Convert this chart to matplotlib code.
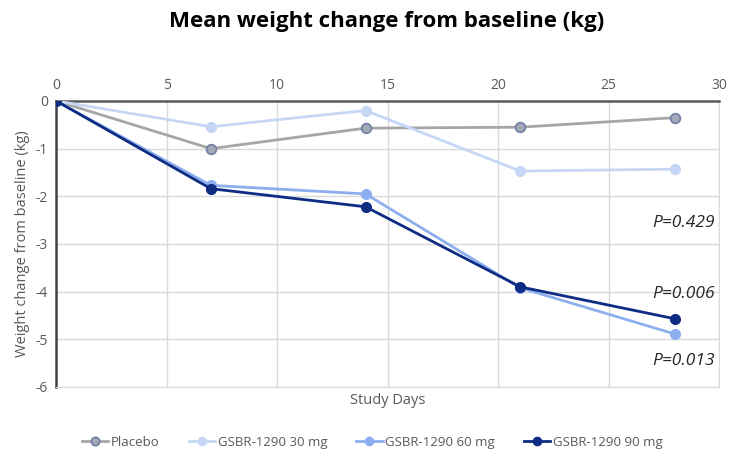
import matplotlib
matplotlib.use("Agg")
import matplotlib.pyplot as plt

days = [0, 7, 14, 21, 28]
placebo = [0, -1.00, -0.57, -0.55, -0.35]
mg30 = [0, -0.54, -0.20, -1.47, -1.43]
mg60 = [0, -1.77, -1.95, -3.92, -4.89]
mg90 = [0, -1.84, -2.22, -3.90, -4.57]
pvals = ["P=0.429", "P=0.006", "P=0.013"]
p_y = [-2.55, -4.05, -5.45]

plt.rcParams['font.family'] = ['Open Sans', 'DejaVu Sans']
plt.rcParams['axes.unicode_minus'] = False

fig = plt.figure(figsize=(7.3, 4.59), dpi=100)
ax = fig.add_axes([0.077, 0.157, 0.908, 0.623])

ax.plot(days, placebo, color='#A6A6A6', lw=2, marker='o', ms=7,
        mfc='#A3A9B5', mec='#6F7FA5', mew=1.2, label='Placebo', zorder=3)
ax.plot(days, mg30, color='#C6D7F6', lw=2, marker='o', ms=7,
        mfc='#C6D7F6', mec='#C6D7F6', label='GSBR-1290 30 mg', zorder=3)
ax.plot(days, mg60, color='#8DAEEF', lw=2, marker='o', ms=7,
        mfc='#8DAEEF', mec='#8DAEEF', label='GSBR-1290 60 mg', zorder=4)
ax.plot(days, mg90, color='#0E2C83', lw=2, marker='o', ms=7,
        mfc='#0E2C83', mec='#0E2C83', label='GSBR-1290 90 mg', zorder=5)

ax.set_xlim(0, 30)
ax.set_ylim(-6, 0)
ax.set_xticks(range(0, 31, 5))
ax.set_yticks(range(-6, 1))
ax.xaxis.tick_top()
ax.tick_params(axis='both', length=0, labelsize=10, colors='#595959', pad=6)
ax.grid(True, color='#D9D9D9', lw=1)
ax.set_axisbelow(True)
for s in ['right', 'bottom']:
    ax.spines[s].set_color('#D9D9D9')
ax.spines['top'].set_color('#595959')
ax.spines['top'].set_linewidth(1.8)
ax.spines['left'].set_color('#404040')
ax.spines['left'].set_linewidth(1.8)

ax.set_ylabel('Weight change from baseline (kg)', fontsize=10.5, color='#595959')
ax.text(15, -6.12, 'Study Days', ha='center', va='top', fontsize=10.5, color='#595959')

for t, y in zip(pvals, p_y):
    ax.text(28.4, y, t, ha='center', va='center', fontsize=12.5, style='italic', color='#262626')

fig.suptitle('Mean weight change from baseline (kg)', x=0.53, fontsize=16, fontweight='bold', y=0.975)

fig.legend(loc='center', bbox_to_anchor=(0.51, 0.037), ncol=4, frameon=False,
           fontsize=9.5, handlelength=2.0, columnspacing=2.2, handletextpad=0.2,
           labelcolor='#595959', markerscale=0.85)

fig.savefig('out.png', dpi=100)
